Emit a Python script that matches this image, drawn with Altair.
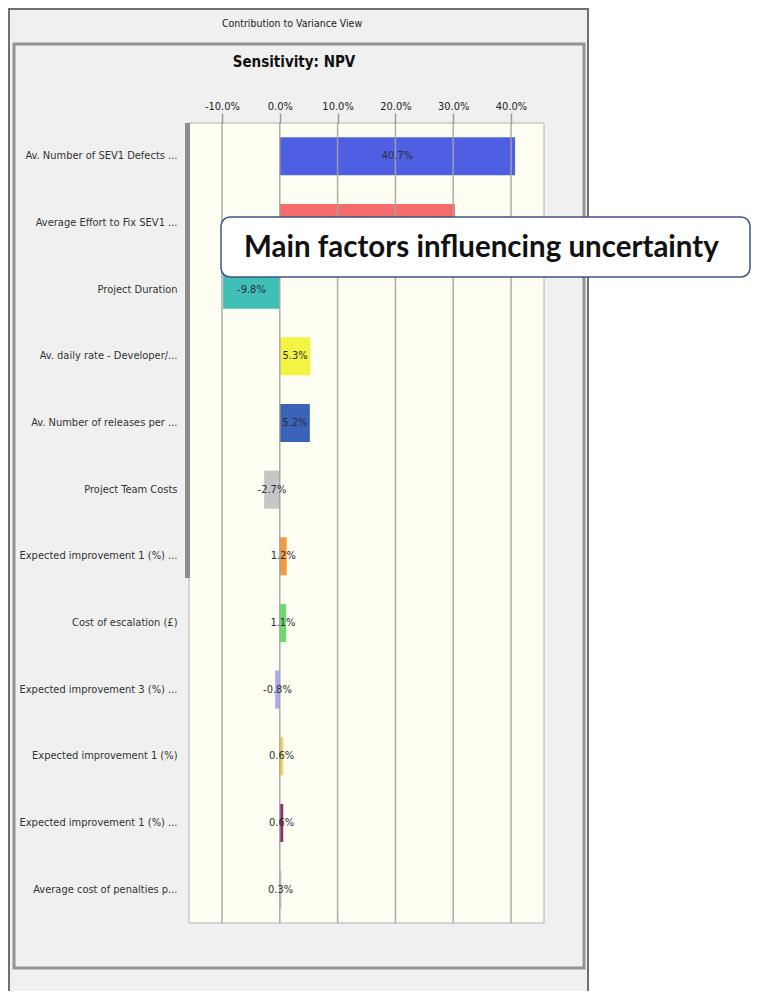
import json
import altair as alt
import pandas as pd

# ---------------- data ----------------
factors = [
    "Av. Number of SEV1 Defects ...",
    "Average Effort to Fix SEV1 ...",
    "Project Duration",
    "Av. daily rate - Developer/...",
    "Av. Number of releases per ...",
    "Project Team Costs",
    "Expected improvement 1 (%) ...",
    "Cost of escalation (£)",
    "Expected improvement 3 (%) ...",
    "Expected improvement 1 (%)",
    "Expected improvement 1 (%) ...",
    "Average cost of penalties p...",
]
contributions = [40.7, 30.3, -9.8, 5.3, 5.2, -2.7, 1.2, 1.1, -0.8, 0.6, 0.6, 0.3]
bar_colors = [
    "#4f5fe4", "#f46c6c", "#3fbfb6", "#f3f341", "#3a62b6", "#c6c6c6",
    "#f39a3c", "#66dd6a", "#a9a9f4", "#f0d45c", "#8e3065", "#a8dce6",
]
tick_values = [-10, 0, 10, 20, 30, 40]
x_domain = [-15.7, 45.7]

window_title = "Contribution to Variance View"
chart_title = "Sensitivity: NPV"
callout_text = "Main factors influencing uncertainty"

# ---------------- layout helpers ----------------
W, H = 355, 800          # plot area
OX, OY = 190, 123        # page position of plot origin
COND = "DejaVu Sans Condensed"

df = pd.DataFrame({
    "idx": list(range(len(factors))),
    "value": contributions,
})
one = alt.Data(values=[{"k": 0}])

PCT = "(datum.value < 0 ? '-' : '') + format(abs(datum.value), '.1f') + '%'"


def prect(x1, y1, x2, y2, **kw):
    return alt.Chart(one).mark_rect(**kw).encode(
        x=alt.value(x1 - OX), x2=alt.value(x2 - OX),
        y=alt.value(y1 - OY), y2=alt.value(y2 - OY),
    )


def ptext(x, y, txt, **kw):
    return alt.Chart(one).mark_text(text=txt, **kw).encode(
        x=alt.value(x - OX), y=alt.value(y - OY)
    )


x_scale = alt.Scale(domain=x_domain, nice=False, zero=False)
x_axis = alt.Axis(
    orient="top", values=tick_values,
    labelExpr=PCT,
    grid=False, domain=False, tickSize=10, tickColor="#9a9a9a", tickWidth=1.5,
    labelFont=COND, labelFontSize=11, labelColor="#222222", labelPadding=2,
    title=None, zindex=1,
)
y_scale = alt.Scale(paddingInner=0.43, paddingOuter=0.215)
y_axis = alt.Axis(
    labelExpr=json.dumps(factors) + "[datum.value]",
    ticks=False, domain=False, grid=False, labelPadding=12,
    labelFont=COND, labelFontSize=11, labelColor="#333333", labelLimit=220,
    title=None, zindex=1,
)

# ---------------- decorations (window frame) ----------------
outer_bg = prect(9, 8, 590, 991, fill="#f0f0f0")
outer_left = prect(9, 8, 11, 991, fill="#707070")
outer_top = prect(9, 8, 590, 10, fill="#707070")
outer_right = prect(588, 8, 590, 991, fill="#707070")
win_title = ptext(293, 24, window_title, font=COND, fontSize=10.5,
                  color="#222222", align="center", baseline="middle")
panel = prect(15, 44, 585, 968, fill="#f0f0f0", stroke="#939393", strokeWidth=3)
title = ptext(295, 62, chart_title, font=COND, fontSize=15, fontWeight="bold",
              color="#111111", align="center", baseline="middle")
plot_bg = prect(190, 123, 545, 923, fill="#fefef3", stroke="#b2b2b2", strokeWidth=1)
scrollbar = prect(186, 123, 191, 578, fill="#8e8e8e")

# ---------------- data layers ----------------
bars = alt.Chart(df).mark_bar().encode(
    x=alt.X("value:Q", scale=x_scale, axis=x_axis, stack=None),
    x2=alt.datum(0),
    y=alt.Y("idx:O", scale=y_scale, axis=y_axis),
    color=alt.Color("idx:O", scale=alt.Scale(domain=list(range(len(factors))),
                                             range=bar_colors), legend=None),
)

grid = alt.Chart(pd.DataFrame({"t": tick_values})).mark_rule(
    color="#a4a49e", strokeWidth=1.5, opacity=0.9
).encode(
    x=alt.X("t:Q", scale=x_scale, axis=x_axis),
    y=alt.value(0), y2=alt.value(H),
)

bar_labels = alt.Chart(df).transform_calculate(
    mid="datum.value / 2",
    lab=PCT,
).mark_text(font=COND, fontSize=11, color="#2c2c3c", baseline="middle").encode(
    x=alt.X("mid:Q", scale=x_scale, axis=x_axis),
    y=alt.Y("idx:O", scale=y_scale, axis=y_axis),
    text="lab:N",
)

callout_box = prect(222, 217, 751, 277, fill="#ffffff", stroke="#3b5686",
                    strokeWidth=1.5, cornerRadius=9)
callout = ptext(245, 248, callout_text, font="Lato",
                fontSize=29.5, fontWeight="bold", color="#111111",
                align="left", baseline="middle")

chart = alt.layer(
    outer_bg, outer_left, outer_top, outer_right, win_title, panel, title,
    plot_bg, scrollbar, bars, grid, bar_labels, callout_box, callout,
).properties(
    width=W, height=H, padding=0, background="#ffffff",
).configure_view(stroke=None)

chart.save("out.html", embed_options={"renderer": "svg", "actions": False})
